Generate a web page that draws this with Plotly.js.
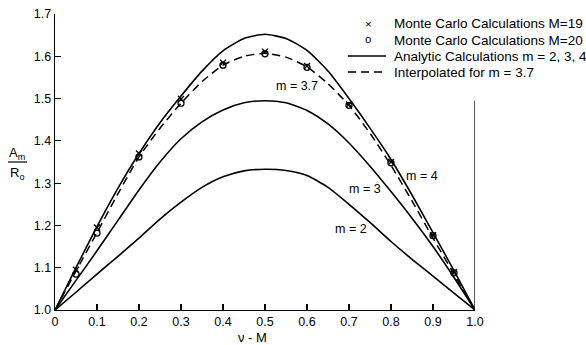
<!DOCTYPE html>
<html>
<head>
<meta charset="utf-8">
<script src="https://cdn.plot.ly/plotly-3.0.1.min.js"></script>
<style>html,body{margin:0;padding:0;background:#fff;}#chart{width:586px;height:345px;}</style>
</head>
<body>
<div id="chart"></div>
<script>
// Analytic curves
const nu = [0, 0.05, 0.1, 0.15, 0.2, 0.25, 0.3, 0.35, 0.4, 0.45, 0.5, 0.55, 0.6, 0.65, 0.7, 0.75, 0.8, 0.85, 0.9, 0.95, 1.0];
const m4  = [1.0, 1.100, 1.197, 1.288, 1.370, 1.443, 1.506, 1.565, 1.613, 1.642, 1.652, 1.642, 1.614, 1.565, 1.500, 1.430, 1.356, 1.272, 1.183, 1.093, 1.0];
const m37 = [1.0, 1.092, 1.183, 1.275, 1.362, 1.430, 1.489, 1.540, 1.579, 1.600, 1.607, 1.598, 1.575, 1.535, 1.484, 1.418, 1.342, 1.258, 1.170, 1.085, 1.0];
const m3  = [1.0, 1.070, 1.140, 1.212, 1.284, 1.350, 1.405, 1.445, 1.473, 1.490, 1.495, 1.490, 1.472, 1.440, 1.395, 1.340, 1.280, 1.217, 1.150, 1.077, 1.0];
const m2  = [1.0, 1.042, 1.085, 1.127, 1.170, 1.215, 1.255, 1.290, 1.315, 1.329, 1.333, 1.330, 1.318, 1.290, 1.250, 1.207, 1.162, 1.120, 1.080, 1.040, 1.0];

// Monte Carlo points
const nuMC = [0.05, 0.1, 0.2, 0.3, 0.4, 0.5, 0.6, 0.7, 0.8, 0.9, 0.95];
const mcM19 = [1.095, 1.195, 1.37, 1.499, 1.585, 1.611, 1.577, 1.486, 1.35, 1.177, 1.09];
const mcM20 = [1.085, 1.182, 1.362, 1.489, 1.579, 1.606, 1.574, 1.484, 1.348, 1.176, 1.088];

// Tick labels
const xTickVals = [0, 0.1, 0.2, 0.3, 0.4, 0.5, 0.6, 0.7, 0.8, 0.9, 1.0];
const xTickText = ["0", "0.1", "0.2", "0.3", "0.4", "0.5", "0.6", "0.7", "0.8", "0.9", "1.0"];
const yTickVals = [1.0, 1.1, 1.2, 1.3, 1.4, 1.5, 1.6, 1.7];
const yTickText = ["1.0", "1.1", "1.2", "1.3", "1.4", "1.5", "1.6", "1.7"];

// Curve labels
const labelText = ["m = 3.7", "m = 4", "m = 3", "m = 2"];
const labelNu = [0.576, 0.874, 0.738, 0.705];
const labelVal = [1.530, 1.317, 1.286, 1.191];

// Legend entries
const legendSymbols = ["×", "o", "", ""];
const legendText = ["Monte Carlo Calculations M=19", "Monte Carlo Calculations M=20",
                    "Analytic Calculations m = 2, 3, 4", "Interpolated for m = 3.7"];

const rightLineTop = 1.495;

const FONT = "Liberation Sans, Arial, sans-serif";
const lineStyle = {color: "#000", width: 1.6, shape: "spline", smoothing: 0.6};

const traces = [
  {x: nuMC, y: mcM19, mode: "markers", name: legendText[0], showlegend: false,
   marker: {symbol: "x-thin", size: 6, line: {color: "#000", width: 1.4}, color: "#000"}},
  {x: nuMC, y: mcM20, mode: "markers", name: legendText[1], showlegend: false,
   marker: {symbol: "circle-open", size: 6, color: "#000", line: {color: "#000", width: 1.3}}},
  {x: nu, y: m4, mode: "lines", name: legendText[2], showlegend: false, line: lineStyle},
  {x: nu, y: m37, mode: "lines", name: legendText[3], showlegend: false,
   line: {color: "#000", width: 1.5, dash: "8px,5px", shape: "spline", smoothing: 0.6}},
  {x: nu, y: m3, mode: "lines", showlegend: false, line: lineStyle},
  {x: nu, y: m2, mode: "lines", showlegend: false, line: lineStyle}
];

const L = 55, R = 475, T = 14, B = 310;
const px = v => (v - L) / (R - L);
const py = v => (B - v) / (B - T);

const annotations = labelText.map((t, i) => ({
  x: labelNu[i], y: labelVal[i], xref: "x", yref: "y", text: t, showarrow: false,
  xanchor: "center", yanchor: "middle",
  font: {family: FONT, size: 12.5, color: "#000"}
}));
const txt = (x, y, t, size, xa) => ({x: px(x), y: py(y), xref: "paper", yref: "paper", text: t,
  showarrow: false, xanchor: xa || "center", yanchor: "middle",
  font: {family: FONT, size: size, color: "#000"}});
annotations.push(
  txt(252, 337, "ν - M", 13),
  txt(17, 153, "A<sub>m</sub>", 13),
  txt(17, 173, "R<sub>o</sub>", 13)
);

// legend (drawn as key)
const rowY = [24, 40, 56, 72];
const shapes = [
  {type: "line", xref: "x", yref: "y", x0: 1, x1: 1, y0: 1.0, y1: rightLineTop,
   line: {color: "#000", width: 1.3}},
  {type: "line", xref: "paper", yref: "paper", x0: px(8), x1: px(27), y0: py(162), y1: py(162),
   line: {color: "#000", width: 1.2}},
  {type: "line", xref: "paper", yref: "paper", x0: px(348), x1: px(386), y0: py(rowY[2]), y1: py(rowY[2]),
   line: {color: "#000", width: 1.5}},
  {type: "line", xref: "paper", yref: "paper", x0: px(348), x1: px(386), y0: py(rowY[3]), y1: py(rowY[3]),
   line: {color: "#000", width: 1.5, dash: "8px,5px"}}
];
for (let i = 0; i < 4; i++) {
  annotations.push(txt(392, rowY[i], legendText[i], 13.5, "left"));
  if (legendSymbols[i]) annotations.push(txt(368, rowY[i] - (i === 1 ? 1 : 0), legendSymbols[i], 11.5));
}

const layout = {
  width: 586, height: 345,
  margin: {l: L, r: 586 - R, t: T, b: 345 - B, pad: 0},
  paper_bgcolor: "#fff", plot_bgcolor: "#fff",
  font: {family: FONT, size: 12, color: "#000"},
  showlegend: false,
  xaxis: {range: [0, 1], tickvals: xTickVals, ticktext: xTickText, ticks: "inside", ticklen: 6,
          tickwidth: 1.2, tickcolor: "#000", showline: true, linecolor: "#000", linewidth: 1.4,
          showgrid: false, zeroline: false, fixedrange: true,
          tickfont: {family: FONT, size: 12.5, color: "#000"}},
  yaxis: {range: [1.0, 1.7], tickvals: yTickVals, ticktext: yTickText, ticks: "inside", ticklen: 6,
          tickwidth: 1.2, tickcolor: "#000", showline: true, linecolor: "#000", linewidth: 1.4,
          showgrid: false, zeroline: false, fixedrange: true,
          tickfont: {family: FONT, size: 12.5, color: "#000"}},
  annotations: annotations,
  shapes: shapes
};

Plotly.newPlot("chart", traces, layout, {staticPlot: true, displayModeBar: false});
</script>
</body>
</html>
